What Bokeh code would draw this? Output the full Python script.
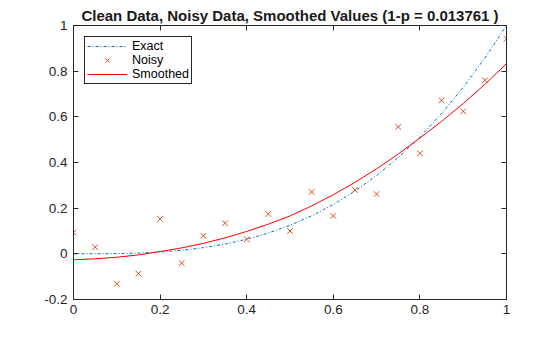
from bokeh.plotting import figure
from bokeh.models import LinearAxis, Range1d, Legend, LegendItem, FixedTicker
from bokeh.embed import file_html
from bokeh.resources import INLINE

x = [0.0, 0.05, 0.1, 0.15, 0.2, 0.25, 0.3, 0.35, 0.4, 0.45, 0.5,
     0.55, 0.6, 0.65, 0.7, 0.75, 0.8, 0.85, 0.9, 0.95, 1.0]
exact = [0.0, 0.000125, 0.001, 0.003375, 0.008, 0.015625, 0.027, 0.042875, 0.064, 0.091125, 0.125,
         0.166375, 0.216, 0.274625, 0.343, 0.421875, 0.512, 0.614125, 0.729, 0.857375, 1.0]
noisy = [0.093, 0.029, -0.131, -0.087, 0.153, -0.041, 0.079, 0.134, 0.064, 0.175, 0.10,
         0.271, 0.166, 0.28, 0.262, 0.556, 0.44, 0.672, 0.624, 0.76, 0.942]
smoothed = [-0.026, -0.0218, -0.0148, -0.0049, 0.010, 0.026, 0.046, 0.070, 0.098, 0.130, 0.166,
            0.210, 0.259, 0.313, 0.372, 0.437, 0.507, 0.580, 0.658, 0.742, 0.833]
xticks = [0, 0.2, 0.4, 0.6, 0.8, 1]
yticks = [-0.2, 0, 0.2, 0.4, 0.6, 0.8, 1]
ytick_labels = {-0.2: "-0.2", 0: "0", 0.2: "0.2", 0.4: "0.4", 0.6: "0.6", 0.8: "0.8", 1: "1"}

FONT = "Liberation Sans"
AX = "#262626"

p = figure(width=560, height=337, output_backend="svg", toolbar_location=None,
           x_range=Range1d(0, 1), y_range=Range1d(-0.2, 1),
           min_border_left=73, min_border_right=54, min_border_top=25, min_border_bottom=38,
           title="Clean Data, Noisy Data, Smoothed Values (1-p = 0.013761 )")
p.title.align = "center"
p.title.text_font = FONT
p.title.text_font_size = "15px"
p.title.text_font_style = "bold"
p.title.text_color = "#1a1a1a"
p.title.standoff = 3
p.xgrid.visible = False
p.ygrid.visible = False
p.outline_line_color = AX
p.outline_line_alpha = 1

def style(ax, labels=True):
    ax.axis_line_color = AX
    ax.major_tick_in = 5
    ax.major_tick_out = 0
    ax.minor_tick_line_color = None
    ax.major_tick_line_color = AX
    ax.major_label_text_font = FONT
    ax.major_label_text_font_size = "13.5px"
    ax.major_label_text_color = AX
    if not labels:
        ax.major_label_text_color = None
        ax.major_label_standoff = 0

p.xaxis.ticker = FixedTicker(ticks=xticks)
p.yaxis.ticker = FixedTicker(ticks=yticks)
style(p.xaxis[0])
style(p.yaxis[0])
p.yaxis[0].major_label_overrides = ytick_labels
p.xaxis[0].major_label_standoff = 5
p.yaxis[0].major_label_standoff = 6

top = LinearAxis(ticker=FixedTicker(ticks=xticks))
style(top, labels=False)
p.add_layout(top, "above")
right = LinearAxis(ticker=FixedTicker(ticks=yticks))
style(right, labels=False)
p.add_layout(right, "right")

r_exact = p.line(x, exact, line_color="#0072BD", line_width=1, line_dash="3 2 1 2")
r_noisy = p.scatter(x, noisy, marker="x", size=8, line_color="#D95319", line_width=1)
r_smooth = p.line(x, smoothed, line_color="#FF0000", line_width=1)

legend = Legend(items=[LegendItem(label="Exact", renderers=[r_exact]),
                       LegendItem(label="Noisy", renderers=[r_noisy]),
                       LegendItem(label="Smoothed", renderers=[r_smooth])],
                location="top_left")
legend.label_text_font = FONT
legend.label_text_font_size = "12.5px"
legend.label_text_color = "#000000"
legend.border_line_color = "#262626"
legend.border_line_alpha = 1
legend.margin = 11
legend.padding = 2
legend.spacing = 0
legend.glyph_height = 14
legend.glyph_width = 40
legend.label_height = 14
legend.label_standoff = 5
p.add_layout(legend)

open("out.html", "w").write(file_html(p, INLINE))
